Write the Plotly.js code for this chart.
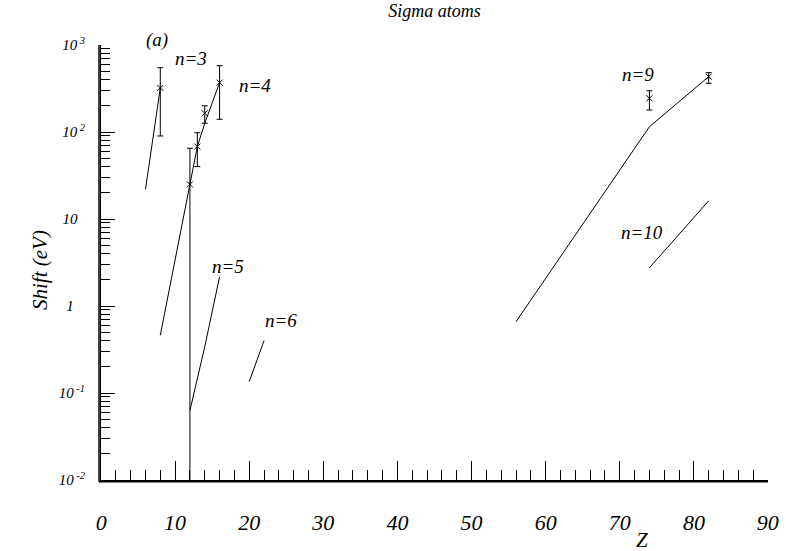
<!DOCTYPE html>
<html>
<head>
<meta charset="utf-8">
<script src="https://cdn.plot.ly/plotly-3.0.1.min.js"></script>
<style>html,body{margin:0;padding:0;background:#fff;}#chart{width:786px;height:551px;}</style>
</head>
<body>
<div id="chart"></div>
<script>
// ---- data ----
const n3LineZ = [6, 8];
const n3LineY = [21.9, 321];
const n4LineZ = [8, 12, 13, 14, 16];
const n4LineY = [0.46, 25, 68, 126, 369];
const n5LineZ = [12, 14, 16];
const n5LineY = [0.063, 0.34, 2.17];
const n6LineZ = [20, 22];
const n6LineY = [0.135, 0.40];
const n9LineZ = [56, 74, 82];
const n9LineY = [0.66, 115, 433];
const n10LineZ = [74, 82];
const n10LineY = [2.75, 16.2];

const measZ = [8, 12, 13, 14, 16, 74, 82];
const measY = [321, 25, 68, 164, 369, 244, 433];
const measHi = [548, 65, 98, 200, 578, 298, 481];
const measLo = [90, 0.001, 40, 126, 140, 179, 363];

const NB = '\u00a0';
const yMajorVals = [0.01, 0.1, 1, 10, 100, 1000];
const yMajorText = ['10<sup> -2</sup>', '10<sup> -1</sup>', '1' + NB + NB + NB, '10' + NB + NB, '10<sup> 2</sup>', '10<sup> 3</sup>'];
const xMajorVals = [0.02, 10, 20, 30, 40, 50, 60, 70, 80, 89.97];
const xMajorText = ['0', '10', '20', '30', '40', '50', '60', '70', '80', '90'];

const labelText = ['n=3', 'n=4', 'n=5', 'n=6', 'n=9', 'n=10'];
const labelZ = [12.1, 20.8, 17.2, 24.3, 72.4, 73.0];
const labelLogY = [2.84, 2.54, 0.45, -0.17, 2.66, 0.84];

// minor y ticks (2..9 in each decade)
const yMinorVals = [];
for (let d = -2; d <= 2; d++) for (let m = 2; m <= 9; m++) yMinorVals.push(m * Math.pow(10, d));

const serif = 'Liberation Serif';
const lineStyle = {color: '#000', width: 1};
function lineTrace(x, y) {
  return {x: x, y: y, type: 'scatter', mode: 'lines', line: lineStyle, hoverinfo: 'skip', showlegend: false};
}

const traces = [
  lineTrace(n3LineZ, n3LineY),
  lineTrace(n4LineZ, n4LineY),
  lineTrace(n5LineZ, n5LineY),
  lineTrace(n6LineZ, n6LineY),
  lineTrace(n9LineZ, n9LineY),
  lineTrace(n10LineZ, n10LineY),
  {
    x: measZ, y: measY, type: 'scatter', mode: 'markers', showlegend: false,
    marker: {symbol: 'x-thin-open', size: 6, color: '#000', line: {color: '#000', width: 1}},
    error_y: {
      type: 'data', symmetric: false,
      array: measHi.map((h, i) => h - measY[i]),
      arrayminus: measLo.map((l, i) => measY[i] - l),
      color: '#000', thickness: 1, width: 3
    }
  }
];

const labFont = {family: serif, size: 19, color: '#000', style: 'italic'};
const annotations = labelText.map((t, i) => ({
  text: t, x: labelZ[i], y: labelLogY[i], xref: 'x', yref: 'y',
  showarrow: false, xanchor: 'center', yanchor: 'middle', font: labFont
}));
annotations.push({
  text: '(a)', xref: 'paper', yref: 'paper', x: (157 - 101) / 667, y: (480 - 40) / 435,
  showarrow: false, xanchor: 'center', yanchor: 'middle', font: labFont
});
annotations.push({
  text: 'Shift (eV)', textangle: -90, xref: 'paper', yref: 'paper',
  x: (40 - 101) / 667, y: (480 - 270) / 435, showarrow: false,
  xanchor: 'center', yanchor: 'middle',
  font: {family: serif, size: 21, color: '#000', style: 'italic'}
});
annotations.push({
  text: 'Z', xref: 'paper', yref: 'paper',
  x: (642 - 101) / 667, y: (480 - 540) / 435, showarrow: false,
  xanchor: 'center', yanchor: 'middle',
  font: {family: serif, size: 21, color: '#000', style: 'italic'}
});

const layout = {
  width: 786, height: 551,
  margin: {l: 101, r: 18, t: 45, b: 71, pad: 0},
  paper_bgcolor: '#fff', plot_bgcolor: 'rgba(0,0,0,0)',
  showlegend: false,
  font: {family: serif, color: '#000'},
  title: {
    text: 'Sigma atoms', xref: 'paper', x: 0.5, xanchor: 'center',
    yref: 'container', y: 1 - 11 / 551, yanchor: 'middle',
    font: {family: serif, size: 18, color: '#000', style: 'italic'}
  },
  xaxis: {
    range: [0, 90], showgrid: false, zeroline: false,
    showline: true, linecolor: '#000', linewidth: 1, mirror: false,
    tickmode: 'array', tickvals: xMajorVals, ticktext: xMajorText,
    ticks: 'inside', ticklen: 19, tickwidth: 1, tickcolor: '#000',
    ticklabelstandoff: 23,
    tickfont: {family: serif, size: 22, color: '#000', style: 'italic'},
    minor: {tickmode: 'linear', dtick: 2, tick0: 0, ticks: 'inside', ticklen: 10, tickwidth: 1, tickcolor: '#000', showgrid: false}
  },
  yaxis: {
    type: 'log', range: [-2, 3], showgrid: false, zeroline: false,
    showline: true, linecolor: '#000', linewidth: 1,
    tickmode: 'array', tickvals: yMajorVals, ticktext: yMajorText,
    ticks: 'inside', ticklen: 14, tickwidth: 1, tickcolor: '#000',
    ticklabelstandoff: 12,
    tickfont: {family: serif, size: 15, color: '#000', style: 'italic'},
    minor: {tickmode: 'array', tickvals: yMinorVals, ticks: 'inside', ticklen: 9, tickwidth: 1, tickcolor: '#000', showgrid: false}
  },
  shapes: [
    {type: 'line', xref: 'paper', yref: 'paper', x0: -0.003, x1: 1.0, y0: -0.004, y1: -0.004, line: {color: '#000', width: 1.5}, layer: 'above'},
    {type: 'line', xref: 'paper', yref: 'paper', x0: -0.003, x1: -0.003, y0: -0.004, y1: 1.0, line: {color: '#000', width: 1.5}, layer: 'above'}
  ],
  annotations: annotations
};

Plotly.newPlot('chart', traces, layout, {displayModeBar: false, staticPlot: true});
</script>
</body>
</html>
